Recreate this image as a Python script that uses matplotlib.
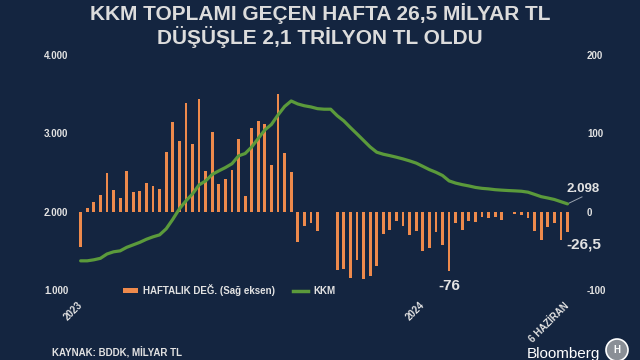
import matplotlib
matplotlib.use("Agg")
import matplotlib.pyplot as plt
from matplotlib.patches import Patch, Ellipse
from matplotlib.lines import Line2D
import numpy as np

# weekly change, billion TL (right axis)
haftalik = [-45, 4, 12, 21, 49, 28, 17, 52, 25, 26, 36, 33, 29, 76, 114, 90, 138, 86, 144, 52,
            101, 35, 42, 53, 92, 20, 107, 115, 112, 59, 150, 75, 50, -39, -19, -15, -25, -1, -1, -74,
            -73, -85, -62, -86, -82, -70, -29, -24, -12, -18, -30, -25, -50, -47, -26, -43, -76, -15, -24, -12,
            -13, -7, -8, -7, -11, -1, -3, -4, -8, -25, -36, -20, -15, -36, -26.5]

# KKM total, billion TL (left axis)
kkm = [1372, 1372, 1385, 1404, 1459, 1487, 1499, 1544, 1576, 1608, 1647, 1678, 1703, 1780, 1901,
       2034, 2136, 2225, 2340, 2391, 2474, 2519, 2561, 2610, 2710, 2740, 2824, 2933, 3041, 3111,
       3232, 3340, 3410, 3372, 3349, 3334, 3312, 3305, 3305, 3222, 3156, 3071, 2990, 2907, 2824,
       2757, 2731, 2713, 2693, 2671, 2646, 2618, 2577, 2535, 2501, 2460, 2391, 2363, 2343, 2327,
       2308, 2296, 2289, 2279, 2273, 2268, 2264, 2259, 2247, 2219, 2190, 2173, 2154, 2126, 2098]

tick_pos = [0, 52, 74]
tick_lbl = ["2023", "2024", "6 HAZİRAN"]
left_ticks = [1000, 2000, 3000, 4000]
left_lbl = ["1.000", "2.000", "3.000", "4.000"]
right_ticks = [-100, 0, 100, 200]
right_lbl = ["-100", "0", "100", "200"]

bg = "#142540"
fg = "#e2e2e2"
orange = "#ee8a4c"
green = "#5b9a3b"

plt.rcParams['font.family'] = ['Liberation Sans', 'DejaVu Sans']

fig = plt.figure(figsize=(6.4, 3.6), dpi=100, facecolor=bg)
ax = fig.add_axes([75.4/640, 1-290/360, (580-75.4)/640, (290-54.7)/360])
ax.set_facecolor(bg)
ax2 = ax.twinx()
idx = np.arange(len(haftalik))

# bars on the right scale
ax.bar(idx, haftalik, 0.42, color=orange, zorder=2)
ax.set_xlim(-0.8, 75.9)
ax.set_ylim(-100, 200)
ax.yaxis.tick_right()
ax.set_yticks(right_ticks)
ax.set_yticklabels(right_lbl)
ax.set_xticks(tick_pos)
ax.set_xticklabels(tick_lbl, rotation=45, ha='right', va='center', rotation_mode='anchor')
ax.tick_params(axis='both', length=0, colors=fg, labelsize=7)
ax.tick_params(axis='y', pad=5)
ax.tick_params(axis='x', pad=10)
for t in ax.get_xticklabels() + ax.get_yticklabels():
    t.set_fontweight('bold')
for s in ax.spines.values():
    s.set_visible(False)

# KKM line on the left scale
ax2.plot(idx, kkm, color=green, linewidth=2.3, solid_capstyle='round', zorder=3)
ax2.set_ylim(1000, 4000)
ax2.yaxis.tick_left()
ax2.set_yticks(left_ticks)
ax2.set_yticklabels(left_lbl)
ax2.tick_params(axis='y', length=0, colors=fg, labelsize=7, pad=5)
for t in ax2.get_yticklabels():
    t.set_fontweight('bold')
for s in ax2.spines.values():
    s.set_visible(False)

# annotations
ax2.plot([74, 76.2], [kkm[-1], 2187], color="#9aa3b0", linewidth=0.7, clip_on=False)
ax2.text(76.3, 2289, "2.098", color=fg, fontsize=9.5, fontweight='bold', ha='center', va='center')
ax2.text(76.5, 1576, "-26,5", color=fg, fontsize=11, fontweight='bold', ha='center', va='center')
ax2.text(56, 1053, "-76", color=fg, fontsize=11, fontweight='bold', ha='center', va='center')

handles = [Patch(facecolor=orange), Line2D([0], [0], color=green, linewidth=2.5)]
leg = ax2.legend(handles, ["HAFTALIK DEĞ. (Sağ eksen)", "KKM"], ncol=2, frameon=False,
                 loc='center left', bbox_to_anchor=((114 - 75.4)/504.6, 0.0),
                 fontsize=7, handlelength=1.6, handleheight=0.55, columnspacing=1.8,
                 handletextpad=0.5)
for t in leg.get_texts():
    t.set_color(fg)
    t.set_fontweight('bold')

# title
tfont = ['Liberation Sans Narrow', 'DejaVu Sans Condensed', 'Liberation Sans', 'DejaVu Sans']
fig.text(0.5, 1-14/360, "KKM TOPLAMI GEÇEN HAFTA 26,5 MİLYAR TL", ha='center', va='center',
         color="#dcdcdc", fontsize=15, fontweight='bold', family=tfont)
fig.text(0.5, 1-37/360, "DÜŞÜŞLE 2,1 TRİLYON TL OLDU", ha='center', va='center',
         color="#dcdcdc", fontsize=15, fontweight='bold', family=tfont)

fig.text(52/640, 1-353/360, "KAYNAK: BDDK, MİLYAR TL", ha='left', va='center',
         color=fg, fontsize=7, fontweight='bold')

# logo
fig.text(527/640, 2/360, "Bloomberg", ha='left', va='baseline', color="white", fontsize=11)
fig.add_artist(Ellipse((617/640, 10/360), 22/640, 22/360, facecolor="#8a8f96",
                       edgecolor="white", linewidth=1.2))
fig.text(617/640, 10/360, "H", ha='center', va='center', color="white", fontsize=7, fontweight='bold')

fig.savefig("out.png", dpi=100, facecolor=bg)
